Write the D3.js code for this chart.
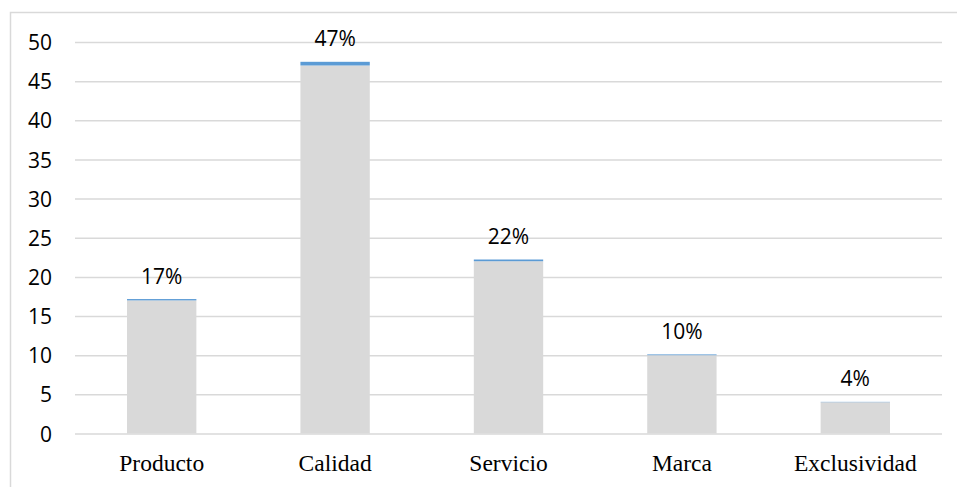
<!DOCTYPE html>
<html>
<head>
<meta charset="utf-8">
<script src="https://cdn.jsdelivr.net/npm/d3@7/dist/d3.min.js"></script>
<style>
  html, body { margin: 0; padding: 0; background: #fff; }
  svg { display: block; }
</style>
</head>
<body>
<svg id="chart" width="957" height="487"></svg>
<script>
const categories = ["Producto", "Calidad", "Servicio", "Marca", "Exclusividad"];
const counts = [17, 47, 22, 10, 4];
const shares = [0.17, 0.47, 0.22, 0.10, 0.04];
const yTicks = [0, 5, 10, 15, 20, 25, 30, 35, 40, 45, 50];

const svg = d3.select("#chart");
const W = 957, H = 487;

// outer frame
svg.append("rect")
  .attr("x", 10.5).attr("y", 12.5)
  .attr("width", 980).attr("height", 520)
  .attr("fill", "none").attr("stroke", "#d9d9d9").attr("stroke-width", 1.5);

const x = d3.scaleBand().domain(categories).range([75, 942]).paddingInner(0.6).paddingOuter(0.3);
const y = d3.scaleLinear().domain([0, 50]).range([433.5, 42]);

// gridlines
const yAxis = d3.axisLeft(y).tickValues(yTicks).tickSize(-(942 - 75)).tickPadding(23).tickFormat(d3.format("d"));
const gy = svg.append("g").attr("transform", "translate(75,0)").call(yAxis);
gy.select(".domain").remove();
gy.selectAll(".tick line").attr("stroke", "#d9d9d9").attr("stroke-width", 1.5);
gy.selectAll(".tick text")
  .attr("fill", "#000")
  .style("font-family", "'Open Sans', 'Noto Sans', sans-serif")
  .style("font-size", "21px")
  .attr("dy", "0.36em");

// stacked data
const rows = categories.map((c, i) => ({ cat: c, count: counts[i], share: shares[i] }));

svg.append("g").selectAll("rect").data(rows).join("rect")
  .attr("x", d => x(d.cat))
  .attr("width", x.bandwidth())
  .attr("y", d => y(d.count))
  .attr("height", d => y(0) - y(d.count))
  .attr("fill", "#d9d9d9");

svg.append("g").selectAll("rect").data(rows).join("rect")
  .attr("x", d => x(d.cat))
  .attr("width", x.bandwidth())
  .attr("y", d => y(d.count + d.share))
  .attr("height", d => y(d.count) - y(d.count + d.share))
  .attr("fill", "#5b9bd5");

// value labels
svg.append("g").selectAll("text").data(rows).join("text")
  .attr("x", d => x(d.cat) + x.bandwidth() / 2)
  .attr("y", d => y(d.count + d.share) - 15.5)
  .attr("text-anchor", "middle")
  .style("font-family", "'Open Sans', 'Noto Sans', sans-serif")
  .style("font-size", "21px")
  .attr("fill", "#000")
  .text(d => d3.format(".0%")(d.share));

// category labels
const xAxis = d3.axisBottom(x).tickSize(0).tickPadding(0);
const gx = svg.append("g").attr("transform", "translate(0,433.5)").call(xAxis);
gx.select(".domain").remove();
gx.selectAll(".tick text")
  .attr("y", 37).attr("dy", 0)
  .attr("fill", "#000")
  .style("font-family", "'Liberation Serif', 'Times New Roman', serif")
  .style("font-size", "23.5px");
</script>
</body>
</html>
